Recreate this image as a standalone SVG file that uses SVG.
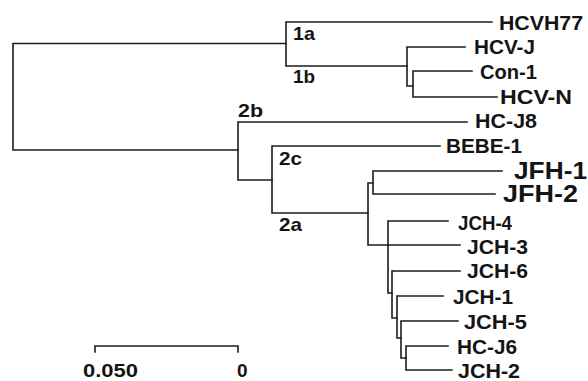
<svg xmlns="http://www.w3.org/2000/svg" width="588" height="381" viewBox="0 0 588 381">
<style>
.br{fill:none;stroke:#1c1c1c;stroke-width:1.6;stroke-linecap:square}
.lb{font-family:"Liberation Sans",Arial,sans-serif;font-size:20px;font-weight:bold;fill:#141414}
.big{font-size:23px}
.cl{font-family:"Liberation Sans",Arial,sans-serif;font-size:19px;font-weight:bold;fill:#141414}
</style>
<rect width="588" height="381" fill="#ffffff"/>
<g id="connectors" class="br">
<path d="M13,43.5 V150 M13,43.5 H286 M13,150 H238"/>
<path d="M286,22 V66 M286,22 H492 M286,66 H407"/>
<path d="M407,47 V86 M407,47 H465 M407,86 H413"/>
<path d="M413,71 V97 M413,71 H472 M413,97 H497"/>
<path d="M238,122 V180 M238,122 H467 M238,180 H272"/>
<path d="M272,146 V213 M272,146 H440 M272,213 H368"/>
<path d="M368,183 V245 M368,183 H373 M368,245 H460"/>
<path d="M373,171 V194 M373,171 H502 M373,194 H495"/>
<path d="M388,221 V293 M388,221 H448 M388,293 H392"/>
<path d="M392,271 V318 M392,271 H460 M392,318 H397"/>
<path d="M397,296 V338 M397,296 H443 M397,338 H401"/>
<path d="M401,321 V358 M401,321 H458 M401,358 H406"/>
<path d="M406,346 V370 M406,346 H448 M406,370 H452"/>
</g>
<g id="scale" class="br">
<path d="M95,352 V346 H238 V352"/>
</g>
<g id="scale-labels">
<text class="cl" x="83" y="377" textLength="55" lengthAdjust="spacingAndGlyphs">0.050</text>
<text class="cl" x="237" y="377">0</text>
</g>
<g id="clade-1a"><text class="cl" x="293" y="40" textLength="22" lengthAdjust="spacingAndGlyphs">1a</text></g>
<g id="clade-1b"><text class="cl" x="293" y="83" textLength="22" lengthAdjust="spacingAndGlyphs">1b</text></g>
<g id="clade-2b"><text class="cl" x="238" y="117" textLength="25" lengthAdjust="spacingAndGlyphs">2b</text></g>
<g id="clade-2c"><text class="cl" x="279" y="165" textLength="23" lengthAdjust="spacingAndGlyphs">2c</text></g>
<g id="clade-2a"><text class="cl" x="279" y="231" textLength="23" lengthAdjust="spacingAndGlyphs">2a</text></g>
<g id="HCVH77"><text class="lb" x="499" y="30" textLength="84" lengthAdjust="spacingAndGlyphs">HCVH77</text></g>
<g id="HCV-J"><text class="lb" x="474" y="54" textLength="61" lengthAdjust="spacingAndGlyphs">HCV-J</text></g>
<g id="Con-1"><text class="lb" x="480" y="79" textLength="57" lengthAdjust="spacingAndGlyphs">Con-1</text></g>
<g id="HCV-N"><text class="lb" x="500" y="104" textLength="72" lengthAdjust="spacingAndGlyphs">HCV-N</text></g>
<g id="HC-J8"><text class="lb" x="475" y="128" textLength="62" lengthAdjust="spacingAndGlyphs">HC-J8</text></g>
<g id="BEBE-1"><text class="lb" x="446" y="153" textLength="76" lengthAdjust="spacingAndGlyphs">BEBE-1</text></g>
<g id="JFH-1"><text class="lb big" x="514" y="179" textLength="73" lengthAdjust="spacingAndGlyphs">JFH-1</text></g>
<g id="JFH-2"><text class="lb big" x="503" y="202" textLength="75" lengthAdjust="spacingAndGlyphs">JFH-2</text></g>
<g id="JCH-4"><text class="lb" x="458" y="230" textLength="54" lengthAdjust="spacingAndGlyphs">JCH-4</text></g>
<g id="JCH-3"><text class="lb" x="467" y="254" textLength="61" lengthAdjust="spacingAndGlyphs">JCH-3</text></g>
<g id="JCH-6"><text class="lb" x="467" y="278" textLength="61" lengthAdjust="spacingAndGlyphs">JCH-6</text></g>
<g id="JCH-1"><text class="lb" x="453" y="304" textLength="60" lengthAdjust="spacingAndGlyphs">JCH-1</text></g>
<g id="JCH-5"><text class="lb" x="464" y="329" textLength="63" lengthAdjust="spacingAndGlyphs">JCH-5</text></g>
<g id="HC-J6"><text class="lb" x="457" y="354" textLength="60" lengthAdjust="spacingAndGlyphs">HC-J6</text></g>
<g id="JCH-2"><text class="lb" x="458" y="378" textLength="62" lengthAdjust="spacingAndGlyphs">JCH-2</text></g>
</svg>
